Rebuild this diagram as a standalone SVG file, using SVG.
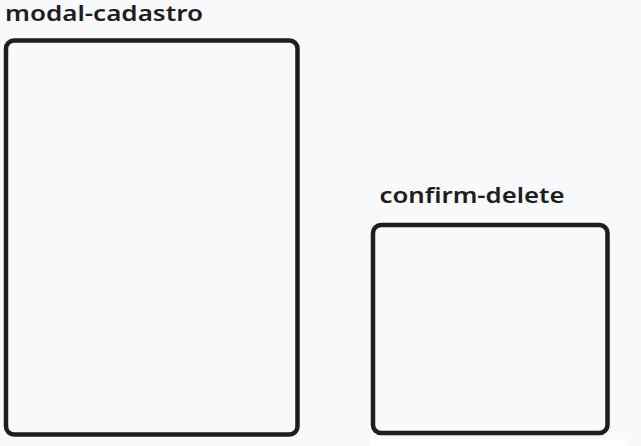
<svg xmlns="http://www.w3.org/2000/svg" width="641" height="446" viewBox="0 0 641 446">
  <style>
    .box { fill: none; stroke: #1e1e1e; stroke-width: 4.5; }
    .label { font-family: "Noto Sans", "DejaVu Sans", sans-serif; font-size: 21px; font-weight: 600; fill: #1e1e1e; }
  </style>
  <rect x="0" y="0" width="641" height="446" fill="#f8f9fa"/>
  <rect x="370" y="439" width="258" height="7" fill="#ffffff"/>
  <g id="connectors"></g>
  <g id="modal-cadastro">
    <text class="label" x="5" y="21" textLength="198" lengthAdjust="spacingAndGlyphs">modal-cadastro</text>
    <rect class="box" x="6" y="40.5" width="291.5" height="394" rx="8" ry="8"/>
  </g>
  <g id="confirm-delete">
    <text class="label" x="379.5" y="203" textLength="185" lengthAdjust="spacingAndGlyphs">confirm-delete</text>
    <rect class="box" x="373" y="225" width="234.5" height="208" rx="8" ry="8"/>
  </g>
</svg>
